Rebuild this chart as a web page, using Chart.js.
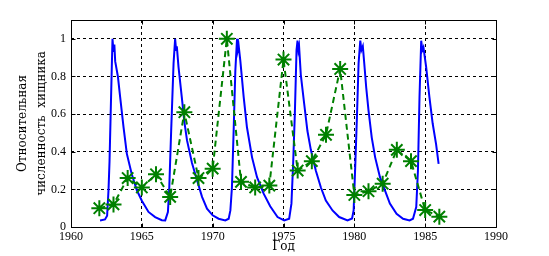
<!DOCTYPE html>
<html>
<head>
<meta charset="utf-8">
<script src="https://cdn.jsdelivr.net/npm/chart.js@4/dist/chart.umd.min.js"></script>
<style>
html,body{margin:0;padding:0;background:#fff;}
canvas{display:block;}
</style>
</head>
<body>
<canvas id="c" width="549" height="256"></canvas>
<script>
// Observed data (green stars)
const dataYears = [1962,1963,1964,1965,1966,1967,1968,1969,1970,1971,1972,1973,1974,1975,1976,1977,1978,1979,1980,1981,1982,1983,1984,1985,1986];
const dataValues = [0.10,0.12,0.26,0.21,0.28,0.16,0.61,0.26,0.31,1.00,0.24,0.21,0.22,0.89,0.30,0.35,0.49,0.84,0.17,0.19,0.23,0.41,0.35,0.09,0.055];

// Model curve (blue line)
const modelYears = [1962.05,1962.4,1962.55,1962.65,1962.72,1962.8,1962.88,1962.93,1963.0,1963.06,1963.12,1963.31,1963.47,1963.71,1963.94,1964.29,1964.65,1965.0,1965.47,1965.94,1966.41,1966.65,1966.84,1966.93,1967.07,1967.24,1967.35,1967.42,1967.47,1967.59,1967.82,1968.0,1968.19,1968.54,1968.89,1969.25,1969.6,1970.0,1970.42,1970.89,1971.13,1971.25,1971.36,1971.48,1971.6,1971.72,1971.78,1971.84,1971.95,1972.19,1972.42,1972.78,1973.13,1973.6,1974.06,1974.58,1975.05,1975.4,1975.56,1975.68,1975.8,1975.92,1975.99,1976.05,1976.1,1976.22,1976.46,1976.69,1976.93,1977.28,1977.64,1977.99,1978.46,1978.93,1979.52,1979.84,1979.95,1980.07,1980.19,1980.3,1980.42,1980.5,1980.6,1980.7,1980.84,1981.0,1981.23,1981.47,1981.81,1982.16,1982.51,1982.98,1983.44,1983.9,1984.14,1984.37,1984.49,1984.6,1984.72,1984.8,1984.88,1985.07,1985.3,1985.53,1985.77,1985.95];
const modelValues = [0.035,0.04,0.06,0.2,0.35,0.6,0.85,1.0,0.93,0.97,0.88,0.8,0.69,0.53,0.39,0.28,0.195,0.14,0.08,0.053,0.036,0.035,0.08,0.195,0.51,0.87,1.0,0.94,0.96,0.85,0.69,0.56,0.46,0.34,0.25,0.16,0.097,0.062,0.044,0.035,0.044,0.088,0.21,0.51,0.83,1.0,0.94,0.96,0.885,0.69,0.53,0.37,0.265,0.177,0.11,0.053,0.035,0.044,0.124,0.336,0.6,0.94,0.99,0.94,0.96,0.81,0.655,0.51,0.41,0.30,0.21,0.14,0.088,0.053,0.035,0.045,0.088,0.336,0.6,0.87,0.99,0.94,0.96,0.87,0.74,0.62,0.475,0.37,0.265,0.195,0.124,0.07,0.044,0.035,0.044,0.106,0.30,0.69,0.99,0.94,0.955,0.85,0.69,0.55,0.44,0.336];

const xTickValues = [1960,1965,1970,1975,1980,1985,1990];
const yTickValues = [0,0.2,0.4,0.6,0.8,1];
const yTickLabels = ['0','0.2','0.4','0.6','0.8','1'];
const xTitle = 'Год';
const yTitle = ['Относительная', 'численность  хищника'];

const tickFont = {family: '"Liberation Serif", "Times New Roman", serif', size: 12};
const titleFont = {family: '"DejaVu Serif", serif', size: 12, lineHeight: 1.55};

const boxPlugin = {
  id: 'box',
  afterDraw(chart) {
    const {ctx, chartArea: a, scales} = chart;
    ctx.save();
    ctx.strokeStyle = '#000';
    ctx.lineWidth = 1;
    ctx.setLineDash([]);
    ctx.beginPath();
    const L = Math.round(a.left) + 0.5, R = Math.round(a.right) + 0.5;
    const T = Math.round(a.top) + 0.5, B = Math.round(a.bottom) + 0.5;
    ctx.rect(L, T, R - L, B - T);
    // inward tick marks
    xTickValues.forEach(v => {
      const px = Math.round(scales.x.getPixelForValue(v)) + 0.5;
      ctx.moveTo(px, B); ctx.lineTo(px, B - 4);
      ctx.moveTo(px, T); ctx.lineTo(px, T + 4);
    });
    yTickValues.forEach(v => {
      const py = Math.round(scales.y.getPixelForValue(v)) + 0.5;
      ctx.moveTo(L, py); ctx.lineTo(L + 4, py);
      ctx.moveTo(R, py); ctx.lineTo(R - 4, py);
    });
    ctx.stroke();
    ctx.restore();
  }
};

new Chart(document.getElementById('c'), {
  type: 'line',
  data: {
    datasets: [
      {
        label: 'data',
        data: dataYears.map((x, i) => ({x, y: dataValues[i]})),
        borderColor: 'rgb(0,128,0)',
        backgroundColor: 'rgb(0,128,0)',
        borderWidth: 2,
        borderDash: [6, 4],
        pointStyle: 'star',
        pointRadius: 8,
        pointBorderWidth: 2,
        pointBorderColor: 'rgb(0,128,0)',
        fill: false,
        tension: 0,
        order: 0
      },
      {
        label: 'model',
        data: modelYears.map((x, i) => ({x, y: modelValues[i]})),
        borderColor: 'rgb(0,0,255)',
        borderWidth: 2,
        pointRadius: 0,
        fill: false,
        tension: 0,
        order: 1
      }
    ]
  },
  options: {
    responsive: false,
    animation: false,
    devicePixelRatio: 1,
    layout: {padding: {top: 20, right: 53, left: 0, bottom: 0}},
    plugins: {legend: {display: false}, tooltip: {enabled: false}},
    scales: {
      x: {
        type: 'linear',
        min: 1960, max: 1990,
        afterBuildTicks: s => { s.ticks = xTickValues.map(v => ({value: v})); },
        afterFit: s => { s.height = 29; },
        ticks: {color: '#000', font: tickFont, padding: 3, maxRotation: 0, autoSkip: false,
                callback: v => String(v)},
        grid: {color: '#000', lineWidth: 1, drawTicks: false},
        border: {display: false, dash: [3, 3]},
        title: {display: true, text: xTitle, color: '#000', font: titleFont, padding: {top: 0, bottom: 0}}
      },
      y: {
        type: 'linear',
        min: 0, max: 1.1,
        afterBuildTicks: s => { s.ticks = yTickValues.map(v => ({value: v})); },
        afterFit: s => { s.width = 71; },
        ticks: {color: '#000', font: tickFont, padding: 5,
                callback: (v) => { const i = yTickValues.indexOf(v); return i >= 0 ? yTickLabels[i] : ''; }},
        grid: {color: '#000', lineWidth: 1, drawTicks: false},
        border: {display: false, dash: [3, 3]},
        title: {display: true, text: yTitle, color: '#000', font: titleFont, padding: {top: 14, bottom: 0}}
      }
    }
  },
  plugins: [boxPlugin]
});
</script>
</body>
</html>
